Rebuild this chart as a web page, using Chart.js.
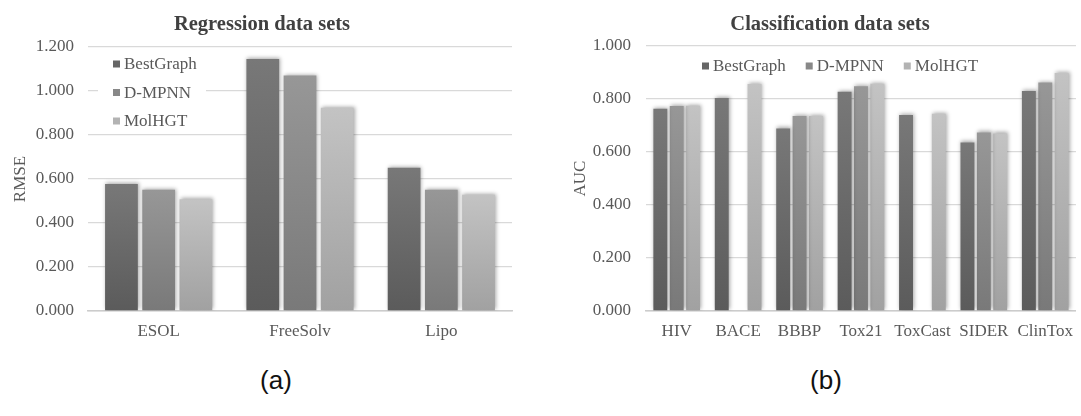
<!DOCTYPE html>
<html>
<head>
<meta charset="utf-8">
<title>Regression and classification data sets</title>
<script src="https://cdn.jsdelivr.net/npm/chart.js@4.4.0/dist/chart.umd.min.js"></script>
<style>
    html, body { margin: 0; padding: 0; background: #fff; overflow: hidden; }
    #page { position: relative; width: 1081px; height: 416px; overflow: hidden; }
    .panel { position: absolute; top: 0; }
    #regPanel { left: 0; }
    #clsPanel { left: 566px; }
    .caption {
        position: absolute; top: 365px; transform: translateX(-50%);
        font: 26px "Liberation Sans", Arial, sans-serif; color: #111;
    }
</style>
</head>
<body>
<div id="page">
    <div class="panel" id="regPanel"><canvas id="regChart" width="520" height="345"></canvas></div>
    <div class="panel" id="clsPanel"><canvas id="clsChart" width="517" height="345"></canvas></div>
    <div class="caption" style="left:276px">(a)</div>
    <div class="caption" style="left:826px">(b)</div>
</div>
<script>
// Series names (shared by both panels)
const seriesNames = ['BestGraph', 'D-MPNN', 'MolHGT'];

// Regression panel (RMSE)
const regCategories = ['ESOL', 'FreeSolv', 'Lipo'];
const regBestGraph = [0.577, 1.146, 0.651];
const regDMPNN = [0.551, 1.070, 0.551];
const regMolHGT = [0.508, 0.924, 0.528];

// Classification panel (AUC), null = no bar reported
const clsCategories = ['HIV', 'BACE', 'BBBP', 'Tox21', 'ToxCast', 'SIDER', 'ClinTox'];
const clsBestGraph = [0.763, 0.804, 0.689, 0.827, 0.740, 0.636, 0.830];
const clsDMPNN = [0.774, null, 0.736, 0.848, null, 0.674, 0.862];
const clsMolHGT = [0.775, 0.857, 0.736, 0.858, 0.744, 0.670, 0.898];

// Grey shades: [top of bar, bottom of bar, legend swatch]
const shades = [
    ['#787878', '#5b5b5b', '#666666'],
    ['#979797', '#797979', '#888888'],
    ['#c3c3c3', '#a1a1a1', '#b3b3b3']
];

const serif = '"Liberation Serif", "Times New Roman", serif';
const textGrey = '#595959';
Chart.defaults.font.family = serif;
const tickFont = { family: serif, size: 17 };

// Vertical gradient for each bar, lighter at the top
function barFill(top, bottom) {
    return (ctx) => {
        const chart = ctx.chart;
        const yScale = chart.scales.y;
        if (ctx.type !== 'data' || !yScale || ctx.raw == null) return bottom;
        const y0 = yScale.getPixelForValue(0);
        const y1 = yScale.getPixelForValue(ctx.raw);
        if (!isFinite(y0) || !isFinite(y1) || y0 === y1) return bottom;
        const g = chart.ctx.createLinearGradient(0, y1, 0, y0);
        g.addColorStop(0, top);
        g.addColorStop(1, bottom);
        return g;
    };
}

// Soft shadow behind the bars
const barShadow = {
    id: 'barShadow',
    beforeDatasetsDraw(chart) {
        const c = chart.ctx;
        c.save();
        c.shadowColor = 'rgba(0,0,0,0.35)';
        c.shadowBlur = 4;
        c.shadowOffsetX = 1;
        c.shadowOffsetY = -1;
    },
    afterDatasetsDraw(chart) {
        chart.ctx.restore();
    }
};

// Panel title drawn at a given spot
const panelTitle = {
    id: 'panelTitle',
    afterDraw(chart, args, opts) {
        const c = chart.ctx;
        c.save();
        c.font = 'bold 20.5px ' + serif;
        c.fillStyle = '#404040';
        c.textAlign = 'center';
        c.textBaseline = 'middle';
        c.fillText(opts.text, opts.x, opts.y);
        c.restore();
    }
};

// Legend inside the plot area
const insetLegend = {
    id: 'insetLegend',
    beforeDatasetsDraw(chart, args, opts) {
        if (!opts.background) return;
        const b = opts.background;
        chart.ctx.save();
        chart.ctx.fillStyle = '#ffffff';
        chart.ctx.fillRect(b.x, b.y, b.w, b.h);
        chart.ctx.restore();
    },
    afterDraw(chart, args, opts) {
        const c = chart.ctx;
        c.save();
        c.font = '17px ' + serif;
        c.textBaseline = 'middle';
        c.textAlign = 'left';
        let x = opts.x, y = opts.y;
        chart.data.datasets.forEach(ds => {
            c.fillStyle = ds.swatch;
            c.fillRect(x, y - 3.5, 7, 7);
            c.fillStyle = textGrey;
            c.fillText(ds.label, x + 11, y + 1);
            if (opts.vertical) {
                y += opts.step;
            } else {
                x += 11 + c.measureText(ds.label).width + opts.step;
            }
        });
        c.restore();
    }
};

function makeDatasets(seriesValues, catPct, barPct) {
    return seriesValues.map((values, i) => ({
        label: seriesNames[i],
        data: values,
        backgroundColor: barFill(shades[i][0], shades[i][1]),
        swatch: shades[i][2],
        borderWidth: 0,
        categoryPercentage: catPct,
        barPercentage: barPct
    }));
}

function makeOptions(cfg) {
    return {
        responsive: false,
        animation: false,
        devicePixelRatio: 1,
        events: [],
        font: { family: serif },
        layout: { padding: { left: 0, right: cfg.padRight, top: cfg.padTop, bottom: 0 } },
        plugins: {
            legend: { display: false },
            tooltip: { enabled: false },
            panelTitle: cfg.title,
            insetLegend: cfg.legend
        },
        scales: {
            x: {
                grid: { display: false, drawTicks: false },
                border: { display: true, color: '#cccccc', width: 1.5 },
                ticks: { color: textGrey, font: tickFont, padding: 10, maxRotation: 0, autoSkip: false },
                afterFit: (s) => { s.height = 34; }
            },
            y: {
                min: 0,
                max: cfg.yMax,
                ticks: {
                    stepSize: 0.2,
                    color: textGrey,
                    font: tickFont,
                    padding: cfg.tickPad,
                    callback: (v) => v.toFixed(3)
                },
                grid: { color: '#d9d9d9', lineWidth: 1.3, drawTicks: false },
                border: { display: false },
                title: {
                    display: true,
                    text: cfg.yTitle,
                    color: textGrey,
                    font: tickFont,
                    padding: { top: cfg.titlePad, bottom: 0 }
                },
                afterFit: (s) => { s.width = cfg.yWidth; }
            }
        }
    };
}

// Regression chart
const regChart = new Chart(document.getElementById('regChart').getContext('2d'), {
    type: 'bar',
    data: {
        labels: regCategories,
        datasets: makeDatasets([regBestGraph, regDMPNN, regMolHGT], 0.79, 0.88)
    },
    options: makeOptions({
        padRight: 8, padTop: 47, yMax: 1.2, yTitle: 'RMSE', tickPad: 14, titlePad: 10, yWidth: 88,
        title: { text: 'Regression data sets', x: 262, y: 25 },
        legend: { vertical: true, x: 113, y: 64, step: 28.5, background: { x: 98, y: 51, w: 108, h: 82 } }
    }),
    plugins: [insetLegend, barShadow, panelTitle]
});

// Classification chart
const clsChart = new Chart(document.getElementById('clsChart').getContext('2d'), {
    type: 'bar',
    data: {
        labels: clsCategories,
        datasets: makeDatasets([clsBestGraph, clsDMPNN, clsMolHGT], 0.80, 0.85)
    },
    options: makeOptions({
        padRight: 0, padTop: 46, yMax: 1.0, yTitle: 'AUC', tickPad: 15, titlePad: 4, yWidth: 80,
        title: { text: 'Classification data sets', x: 264, y: 25 },
        legend: { vertical: false, x: 136, y: 66, step: 20 }
    }),
    plugins: [insetLegend, barShadow, panelTitle]
});
</script>
</body>
</html>
